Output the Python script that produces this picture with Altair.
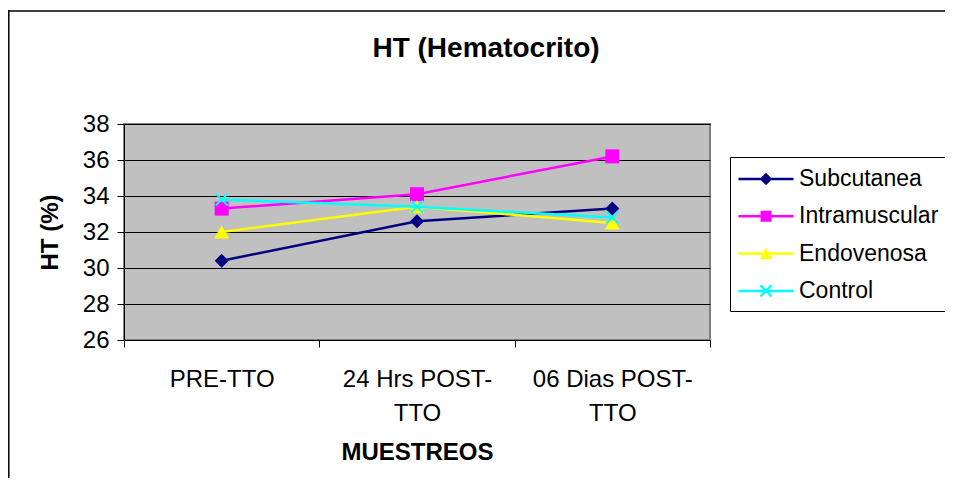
import altair as alt
import pandas as pd

categories = ["PRE-TTO", "24 Hrs POST-TTO", "06 Dias POST-TTO"]
series = ["Subcutanea", "Intramuscular", "Endovenosa", "Control"]
subcutanea = [30.4, 32.6, 33.3]
intramuscular = [33.3, 34.1, 36.2]
endovenosa = [32.0, 33.4, 32.5]
control = [33.8, 33.4, 32.8]
colors = ["#000080", "#FF00FF", "#FFFF00", "#00FFFF"]
y_ticks = [26, 28, 30, 32, 34, 36, 38]

FONT = "Liberation Sans"

rows = []
for name, vals in zip(series, [subcutanea, intramuscular, endovenosa, control]):
    for c, v in zip(categories, vals):
        rows.append({"muestreo": c, "serie": name, "ht": v})
df = pd.DataFrame(rows)

# chart marker shapes
marker_shapes = ["diamond", "square", "triangle-up", "M-1,-1L1,1M-1,1L1,-1"]
marker_filled = [True, True, True, False]
marker_sizes = [196, 196, 225, 144]

# legend symbols: line segment + marker (filled paths)
bar = "M-2,-0.09H2V0.09H-2Z"
d = 0.062
xpath = (
    f"M{-0.4+d},{-0.4-d}L{0.4+d},{0.4-d}L{0.4-d},{0.4+d}L{-0.4-d},{-0.4+d}Z"
    f"M{-0.4-d},{0.4-d}L{0.4-d},{-0.4-d}L{0.4+d},{-0.4+d}L{-0.4+d},{0.4+d}Z"
)
legend_shapes = [
    bar + "M0,-0.45L0.45,0L0,0.45L-0.45,0Z",
    bar + "M-0.4,-0.4H0.4V0.4H-0.4Z",
    bar + "M0,-0.45L0.45,0.4L-0.45,0.4Z",
    bar + xpath,
]

x_enc = alt.X(
    "muestreo:N",
    sort=categories,
    scale=alt.Scale(type="band", domain=categories, paddingInner=0, paddingOuter=0),
    axis=alt.Axis(
        labelAngle=0,
        labelExpr="isValid(datum.value) ? split(replace(datum.value, 'POST-', 'POST-|'), '|') : ''",
        labelBaseline="top",
        labelAlign="center",
        labelLineHeight=34,
        labelPadding=20,
        tickBand="extent",
        tickSize=7,
        grid=False,
        titleY=112,
        titleBaseline="middle",
    ),
    title="MUESTREOS",
)
y_enc = alt.Y(
    "ht:Q",
    scale=alt.Scale(domain=[26, 38], nice=False, zero=False),
    axis=alt.Axis(
        values=y_ticks,
        grid=True,
        gridColor="black",
        gridWidth=1,
        tickSize=7,
        labelPadding=8,
        titleX=-74,
        titleY=108,
        titleAngle=270,
        titleAlign="center",
        titleBaseline="middle",
    ),
    title="HT (%)",
)

frame_src = alt.Chart(alt.Data(values=[{"a": 1}]))
frame_top = frame_src.mark_rule(color="black", strokeWidth=1.5).encode(
    x=alt.value(-116), x2=alt.value(821), y=alt.value(-113)
)
frame_left = frame_src.mark_rule(color="black", strokeWidth=1.5).encode(
    x=alt.value(-115.2), y=alt.value(-113.7), y2=alt.value(354)
)

layers = [frame_top, frame_left]
base = alt.Chart(df)
for i, name in enumerate(series):
    sub = base.transform_filter(alt.datum.serie == name)
    layers.append(
        sub.mark_line(color=colors[i], strokeWidth=2.5).encode(x=x_enc, y=y_enc)
    )
    pt_kwargs = dict(shape=marker_shapes[i], size=marker_sizes[i], opacity=1)
    if marker_filled[i]:
        pt = sub.mark_point(filled=True, color=colors[i], **pt_kwargs)
    else:
        pt = sub.mark_point(filled=False, color=colors[i], strokeWidth=2, **pt_kwargs)
    layers.append(pt.encode(x=x_enc, y=y_enc))

legend_kw = dict(
    title=None,
    orient="none",
    legendX=606,
    legendY=33,
    direction="vertical",
    fillColor="white",
    strokeColor="black",
    padding=8,
    rowPadding=11.3,
    symbolSize=756,
    symbolStrokeWidth=0,
    symbolOffset=14,
    symbolOpacity=1,
    labelOffset=19,
    labelFontSize=23,
    labelFont=FONT,
    labelColor="black",
    labelLimit=400,
)
legend_layer = base.mark_point(filled=True, clip=True, size=756).encode(
    x=x_enc,
    y=alt.value(-5000),
    color=alt.Color(
        "serie:N",
        scale=alt.Scale(domain=series, range=colors),
        sort=series,
        legend=alt.Legend(**legend_kw),
    ),
    shape=alt.Shape(
        "serie:N",
        scale=alt.Scale(domain=series, range=legend_shapes),
        sort=series,
        legend=alt.Legend(**legend_kw),
    ),
)
layers.append(legend_layer)

chart = (
    alt.layer(*layers)
    .properties(
        width=586,
        height=216,
        padding={"left": 116, "top": 116, "right": 235, "bottom": 138},
        autosize=alt.AutoSizeParams(type="none"),
        background="white",
        title=alt.TitleParams(
            "HT (Hematocrito)",
            font=FONT,
            fontSize=28,
            fontWeight="bold",
            color="black",
            anchor="middle",
            dx=69,
            offset=-75,
            baseline="alphabetic",
        ),
    )
    .configure_view(fill="#C0C0C0", stroke="#808080", strokeWidth=2)
    .configure_axis(
        labelFont=FONT,
        labelFontSize=24,
        labelColor="black",
        titleFont=FONT,
        titleFontSize=24,
        titleFontWeight="bold",
        titleColor="black",
        domainColor="black",
        domainWidth=1,
        tickColor="black",
        tickWidth=1,
    )
    .configure_legend(strokeWidth=1, cornerRadius=0)
)

chart.save("out.html", embed_options={"renderer": "svg", "actions": False})
